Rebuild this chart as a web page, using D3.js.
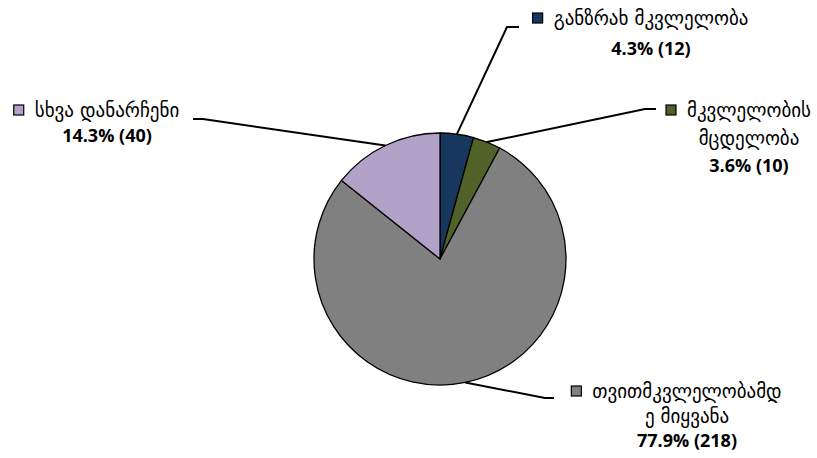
<!DOCTYPE html>
<html>
<head>
<meta charset="utf-8">
<style>
  body { margin: 0; background: #fff; }
  svg { display: block; }
  .cat { font-family: 'DejaVu Sans', sans-serif; font-size: 19px; fill: #000; }
  .val { font-family: 'Open Sans', sans-serif; font-size: 18px; font-weight: bold; fill: #000; }
</style>
</head>
<body>
<svg width="817" height="458"></svg>
<script src="https://d3js.org/d3.v7.min.js"></script>
<script>
// chart data
let categories = ["განზრახ მკვლელობა", "მკვლელობის მცდელობა", "თვითმკვლელობამდე მიყვანა", "სხვა დანარჩენი"]
let counts = [12, 10, 218, 40]
let percents = ["4.3%", "3.6%", "77.9%", "14.3%"]
// how each label is broken into lines
let labelLines = [
    ["განზრახ მკვლელობა"],
    ["მკვლელობის", "მცდელობა"],
    ["თვითმკვლელობამდ", "ე მიყვანა"],
    ["სხვა დანარჩენი"]
]
let colors = ["#17375E", "#4F6228", "#808080", "#B3A2C7"]

let svg = d3.select("svg")
let cx = 440, cy = 259, radius = 126

// label layout: center x of text block, first baseline, line gap, leader elbow and end
let layout = [
    { tx: 651, ty: 25, gap: 30, elbow: [507, 27], end: [519, 27] },
    { tx: 749, ty: 117, gap: 27.5, elbow: [645, 109], end: [656, 109] },
    { tx: 687, ty: 398, gap: 24.5, elbow: [545, 398], end: [554, 398] },
    { tx: 107, ty: 117, gap: 25, elbow: [203, 119], end: [193, 119] }
]

let pie = d3.pie().sort(null).value(d => d)
let arcs = pie(counts)
let arc = d3.arc().innerRadius(0).outerRadius(radius)
let edge = d3.arc().innerRadius(radius).outerRadius(radius)

let g = svg.append("g").attr("transform", `translate(${cx},${cy})`)

g.selectAll("path")
    .data(arcs)
    .join("path")
    .attr("d", arc)
    .attr("fill", (d, i) => colors[i])
    .attr("stroke", "#000")
    .attr("stroke-width", 1.3)

// leader lines
svg.append("g")
    .selectAll("polyline")
    .data(arcs)
    .join("polyline")
    .attr("fill", "none")
    .attr("stroke", "#000")
    .attr("stroke-width", 2)
    .attr("points", (d, i) => {
        let c = edge.centroid(d)
        let L = layout[i]
        return [[cx + c[0], cy + c[1]], L.elbow, L.end].map(p => p.join(",")).join(" ")
    })

// labels
arcs.forEach((d, i) => {
    let L = layout[i]
    let lab = svg.append("g")
    let lines = labelLines[i]
    let first = null
    lines.forEach((t, j) => {
        let txt = lab.append("text")
            .attr("class", "cat")
            .attr("x", L.tx)
            .attr("y", L.ty + j * L.gap)
            .attr("text-anchor", "middle")
            .text(t)
        if (j == 0) first = txt
    })
    lab.append("text")
        .attr("class", "val")
        .attr("x", L.tx)
        .attr("y", L.ty + lines.length * L.gap)
        .attr("text-anchor", "middle")
        .text(percents[i] + " (" + counts[i] + ")")

    // legend key square left of the first line
    let w = first.node().getComputedTextLength()
    lab.append("rect")
        .attr("x", L.tx - w / 2 - 21)
        .attr("y", L.ty - 12)
        .attr("width", 10)
        .attr("height", 10)
        .attr("fill", colors[i])
        .attr("stroke", "#000")
        .attr("stroke-width", 1.2)
})
</script>
</body>
</html>
